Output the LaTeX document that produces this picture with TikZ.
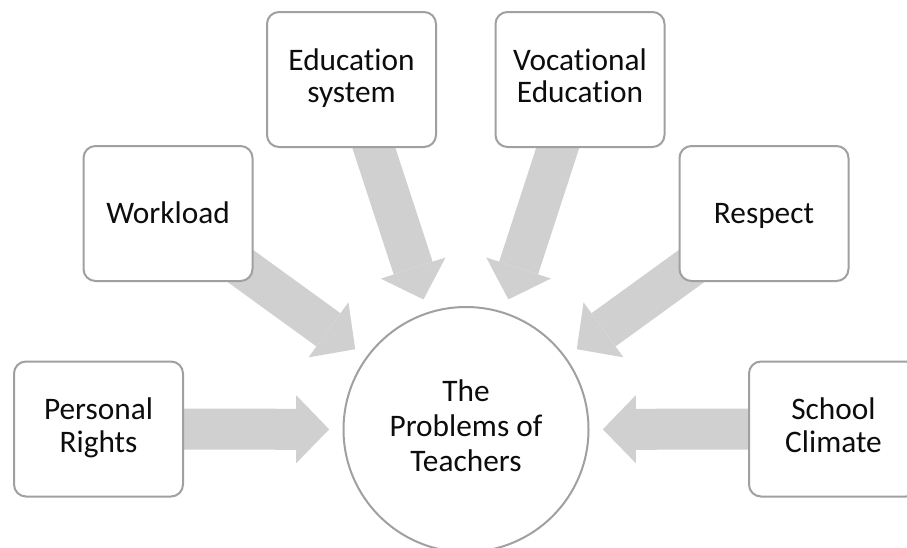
\documentclass[tikz,border=0pt]{standalone}
\usepackage{fontspec}
\setmainfont{Carlito}[Ligatures=NoCommon]
\usetikzlibrary{arrows.meta,backgrounds}
\definecolor{boxgray}{RGB}{160,160,160}
\definecolor{arrowgray}{RGB}{208,208,208}
\definecolor{txtblack}{RGB}{13,13,13}
\newcommand{\capstrut}{\rule[-6pt]{0pt}{27pt}}
\tikzset{
	box/.style={draw=boxgray, line width=1.5pt, rounded corners=9pt, fill=white,
		minimum width=126.75pt, minimum height=101.25pt, align=center, text=txtblack,
		font=\fontsize{23.5pt}{24.2pt}\selectfont,
		execute at begin node=\capstrut, execute at end node=\capstrut},
	hub/.style={circle, draw=boxgray, line width=1.5pt, fill=white,
		minimum size=183.75pt, align=center, text=txtblack,
		font=\fontsize{23.5pt}{26.25pt}\selectfont,
		execute at begin node=\capstrut, execute at end node=\capstrut},
	bigarrow/.style={draw=arrowgray, line width=30.75pt, shorten >=10pt,
		-{Triangle[width=51pt,length=24.75pt,line width=0pt]}}
}
\begin{document}
\begin{tikzpicture}[x=0.75pt,y=-0.75pt]
						\useasboundingbox (0,0) rectangle (907,547);
						
						\node[hub] (tp) at (466,429.5) {The\\Problems of\\Teachers};
						
						\node[box] (pr) at (98.5,429) {Personal\\Rights};
						\node[box] (wl) at (168,213.5) {Workload};
						\node[box] (es) at (351.5,79.5) {Education\\system};
						\node[box] (ve) at (580,79.5) {Vocational\\Education};
						\node[box] (rs) at (764,213.5) {Respect};
						\node[box] (sc) at (833.5,429) {School\\Climate};
						
						\begin{scope}[on background layer]
							\draw[bigarrow] (pr.center) -- (tp);
							\draw[bigarrow] (wl.center) -- (tp);
							\draw[bigarrow] (es.center) -- (tp);
							\draw[bigarrow] (ve.center) -- (tp);
							\draw[bigarrow] (rs.center) -- (tp);
							\draw[bigarrow] (sc.center) -- (tp);
						\end{scope}
					\end{tikzpicture}
\end{document}
